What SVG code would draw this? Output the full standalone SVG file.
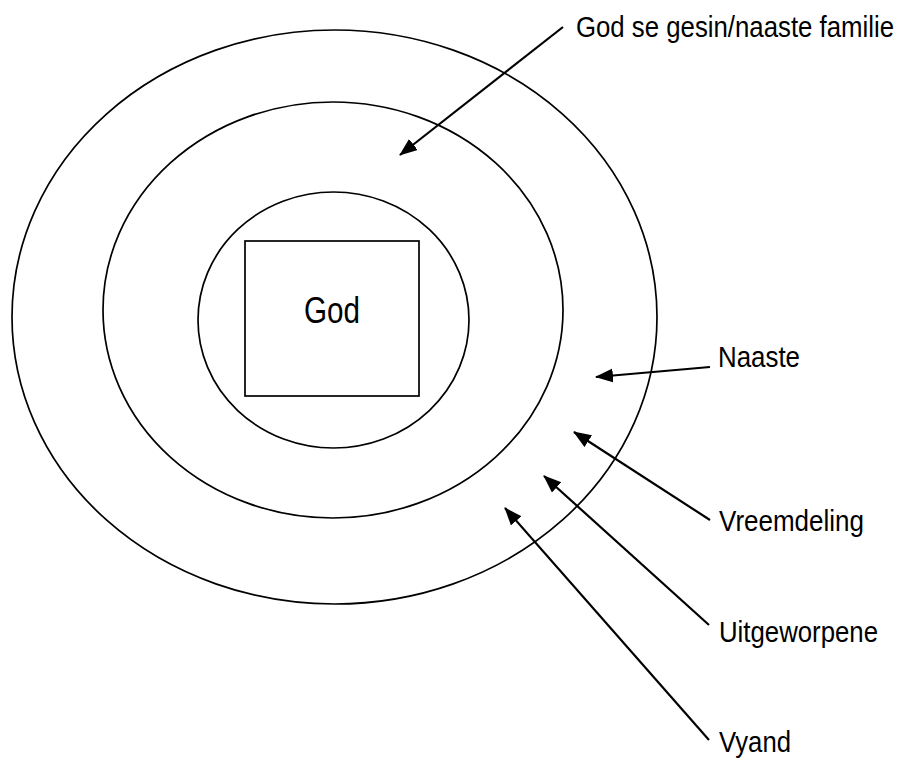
<svg xmlns="http://www.w3.org/2000/svg" width="902" height="758" viewBox="0 0 902 758">
<style>
.ring{fill:none;stroke:#000;stroke-width:1.7}
.box{fill:#fff;stroke:#000;stroke-width:1.7}
.lbl{font-family:"Liberation Sans",Arial,sans-serif;font-size:29px;fill:#000}
.god{font-family:"Liberation Sans",Arial,sans-serif;font-size:36px;fill:#000}
.arr{fill:none;stroke:#000;stroke-width:2.2;marker-end:url(#ah)}
</style>
<defs>
<marker id="ah" markerUnits="userSpaceOnUse" markerWidth="19" markerHeight="15" refX="17" refY="7" orient="auto" viewBox="0 0 19 15">
<path d="M0,0 L18,7 L0,14 z" fill="#000"/>
</marker>
</defs>
<rect width="902" height="758" fill="#fff"/>
<g id="outer"><ellipse class="ring" cx="334.5" cy="317" rx="322.5" ry="287"/></g>
<g id="middle"><ellipse class="ring" cx="333" cy="310" rx="230" ry="208"/></g>
<g id="inner"><ellipse class="ring" cx="333.5" cy="320" rx="135.5" ry="128"/></g>
<g id="god">
<rect class="box" x="245" y="241" width="174" height="155"/>
<text class="god" x="304" y="323" textLength="56" lengthAdjust="spacingAndGlyphs">God</text>
</g>
<g id="labels">
<text class="lbl" style="font-size:25.8px" transform="translate(576,37) scale(1,1.12)" x="0" y="0" textLength="318" lengthAdjust="spacingAndGlyphs">God se gesin/naaste familie</text>
<text class="lbl" x="718" y="367" textLength="82" lengthAdjust="spacingAndGlyphs">Naaste</text>
<text class="lbl" x="719" y="531" textLength="145" lengthAdjust="spacingAndGlyphs">Vreemdeling</text>
<text class="lbl" x="719" y="642" textLength="159" lengthAdjust="spacingAndGlyphs">Uitgeworpene</text>
<text class="lbl" x="719" y="752" textLength="72" lengthAdjust="spacingAndGlyphs">Vyand</text>
</g>
<g id="connectors">
<line class="arr" x1="563" y1="27" x2="400" y2="155"/>
<line class="arr" x1="710" y1="367" x2="596" y2="377"/>
<line class="arr" x1="710" y1="520" x2="574" y2="432"/>
<line class="arr" x1="709" y1="625" x2="544" y2="476"/>
<line class="arr" x1="709" y1="740" x2="505" y2="508"/>
</g>
</svg>
